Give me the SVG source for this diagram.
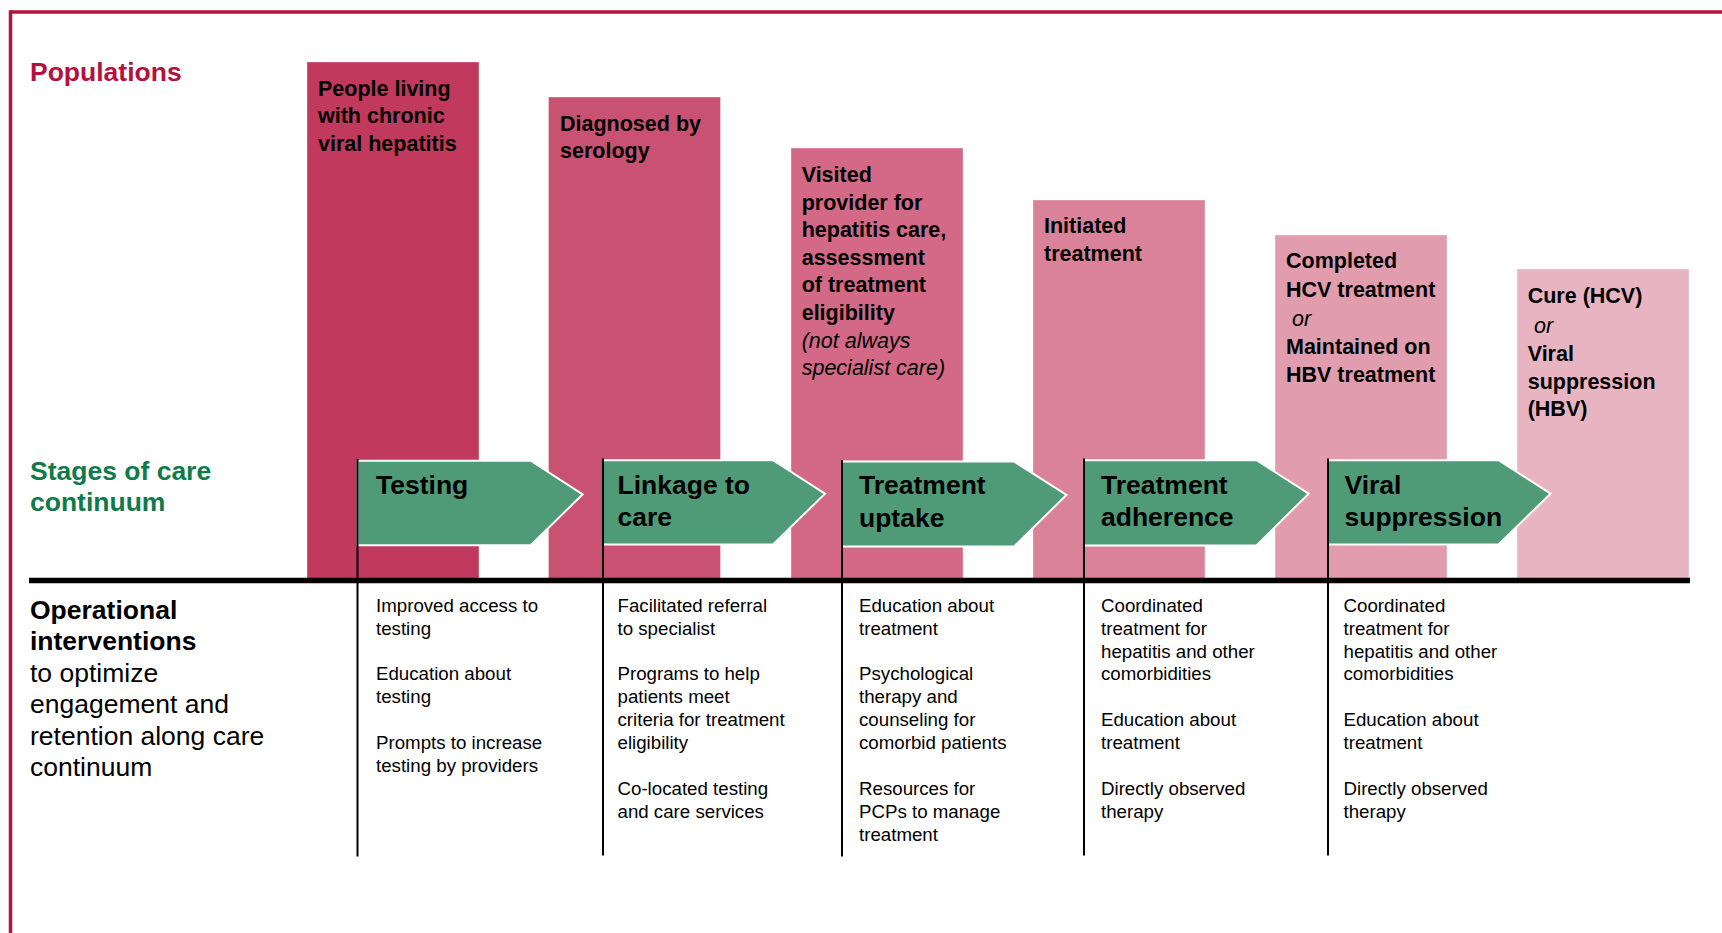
<svg xmlns="http://www.w3.org/2000/svg" width="1722" height="933" viewBox="0 0 1722 933">
  <style>
    text { font-family: "Liberation Sans", Arial, sans-serif; fill: #000; }
    .head { font-size: 26.5px; font-weight: bold; }
    .pop { fill: #b5113d; }
    .stage { fill: #0f7a4a; }
    .bartxt { font-size: 21.5px; font-weight: bold; }
    .it { font-style: italic; font-weight: normal; }
    .arrtxt { font-size: 26.5px; font-weight: bold; }
    .intv { font-size: 18.7px; }
    .reg { font-weight: normal; }
    .bar { stroke: #ffffff; stroke-opacity: 0.35; stroke-width: 1; }
    .arrow { fill: #4f9b78; stroke: #ffffff; stroke-width: 2; }
    .vline { stroke: #000; stroke-width: 2; }
  </style>

  <!-- frame -->
  <g id="frame" fill="none" stroke="#b5113d" stroke-width="3.5">
    <line x1="10.5" y1="12" x2="1722" y2="12"/>
    <line x1="10.5" y1="10.3" x2="10.5" y2="933"/>
  </g>

  <!-- row labels -->
  <g id="label-populations">
    <text class="head pop" x="30" y="81">Populations</text>
  </g>
  <g id="label-stages">
    <text class="head stage" x="30" y="479.5">Stages of care</text>
    <text class="head stage" x="30" y="511">continuum</text>
  </g>
  <g id="label-interventions">
    <text class="head" x="30" y="618.5">Operational</text>
    <text class="head" x="30" y="650">interventions</text>
    <text class="head reg" x="30" y="681.5">to optimize</text>
    <text class="head reg" x="30" y="713">engagement and</text>
    <text class="head reg" x="30" y="744.5">retention along care</text>
    <text class="head reg" x="30" y="776">continuum</text>
  </g>

  <!-- population bars -->
  <g id="pop-1">
    <rect class="bar" x="307" y="62" width="172" height="518" fill="#c1395c"/>
    <text class="bartxt" x="318" y="96">People living</text>
    <text class="bartxt" x="318" y="123.4">with chronic</text>
    <text class="bartxt" x="318" y="150.8">viral hepatitis</text>
  </g>
  <g id="pop-2">
    <rect class="bar" x="548.5" y="97" width="172" height="483" fill="#c95171"/>
    <text class="bartxt" x="560" y="131">Diagnosed by</text>
    <text class="bartxt" x="560" y="158.4">serology</text>
  </g>
  <g id="pop-3">
    <rect class="bar" x="791" y="148" width="172" height="432" fill="#d36986"/>
    <text class="bartxt" x="801.7" y="182">Visited</text>
    <text class="bartxt" x="801.7" y="209.6">provider for</text>
    <text class="bartxt" x="801.7" y="237.2">hepatitis care,</text>
    <text class="bartxt" x="801.7" y="264.8">assessment</text>
    <text class="bartxt" x="801.7" y="292.4">of treatment</text>
    <text class="bartxt" x="801.7" y="320">eligibility</text>
    <text class="bartxt it" x="801.7" y="347.6">(not always</text>
    <text class="bartxt it" x="801.7" y="375.2">specialist care)</text>
  </g>
  <g id="pop-4">
    <rect class="bar" x="1033" y="200" width="172" height="380" fill="#d98299"/>
    <text class="bartxt" x="1044" y="233">Initiated</text>
    <text class="bartxt" x="1044" y="261">treatment</text>
  </g>
  <g id="pop-5">
    <rect class="bar" x="1275" y="235" width="172" height="345" fill="#e19cae"/>
    <text class="bartxt" x="1286" y="268.3">Completed</text>
    <text class="bartxt" x="1286" y="296.7">HCV treatment</text>
    <text class="bartxt it" x="1292" y="325.5">or</text>
    <text class="bartxt" x="1286" y="354">Maintained on</text>
    <text class="bartxt" x="1286" y="381.7">HBV treatment</text>
  </g>
  <g id="pop-6">
    <rect class="bar" x="1517" y="269" width="172" height="311" fill="#e8b4c1"/>
    <text class="bartxt" x="1527.7" y="302.7">Cure (HCV)</text>
    <text class="bartxt it" x="1534" y="332.5">or</text>
    <text class="bartxt" x="1527.7" y="361">Viral</text>
    <text class="bartxt" x="1527.7" y="388.5">suppression</text>
    <text class="bartxt" x="1527.7" y="416">(HBV)</text>
  </g>

  <!-- stage arrows -->
  <g id="stage-testing">
    <path class="arrow" d="M357.5,460.7 H530.7 L582.7,494.3 L530.7,545.3 H357.5 Z"/>
    <text class="arrtxt" x="376" y="493.5">Testing</text>
  </g>
  <g id="stage-linkage">
    <path class="arrow" d="M603,460.2 H773 L825,493.6 L773,544.5 H603 Z"/>
    <text class="arrtxt" x="617.5" y="493.5">Linkage to</text>
    <text class="arrtxt" x="617.5" y="526">care</text>
  </g>
  <g id="stage-uptake">
    <path class="arrow" d="M842,461.5 H1014 L1066.5,495 L1014,546.5 H842 Z"/>
    <text class="arrtxt" x="859" y="494">Treatment</text>
    <text class="arrtxt" x="859" y="526.5">uptake</text>
  </g>
  <g id="stage-adherence">
    <path class="arrow" d="M1084,460.2 H1256.5 L1308.7,493.6 L1256.5,545.5 H1084 Z"/>
    <text class="arrtxt" x="1101" y="493.5">Treatment</text>
    <text class="arrtxt" x="1101" y="526">adherence</text>
  </g>
  <g id="stage-viral">
    <path class="arrow" d="M1328,460.2 H1498.5 L1550.6,493.6 L1498.5,544.5 H1328 Z"/>
    <text class="arrtxt" x="1344.5" y="493.5">Viral</text>
    <text class="arrtxt" x="1344.5" y="526">suppression</text>
  </g>

  <!-- rule lines -->
  <g id="connectors">
    <line class="vline" x1="357.5" y1="459" x2="357.5" y2="856.5"/>
    <line class="vline" x1="603" y1="458.5" x2="603" y2="855.5"/>
    <line class="vline" x1="842" y1="460" x2="842" y2="856.5"/>
    <line class="vline" x1="1084" y1="458.5" x2="1084" y2="855.5"/>
    <line class="vline" x1="1328" y1="458.5" x2="1328" y2="855.5"/>
    <line x1="29" y1="580.5" x2="1690" y2="580.5" stroke="#000" stroke-width="5.5"/>
  </g>

  <!-- interventions -->
  <g id="intv-testing" class="intv">
    <text class="intv" x="376" y="611.7">Improved access to</text>
    <text class="intv" x="376" y="634.6">testing</text>
    <text class="intv" x="376" y="680.4">Education about</text>
    <text class="intv" x="376" y="703.3">testing</text>
    <text class="intv" x="376" y="749.1">Prompts to increase</text>
    <text class="intv" x="376" y="772">testing by providers</text>
  </g>
  <g id="intv-linkage">
    <text class="intv" x="617.5" y="611.7">Facilitated referral</text>
    <text class="intv" x="617.5" y="634.6">to specialist</text>
    <text class="intv" x="617.5" y="680.4">Programs to help</text>
    <text class="intv" x="617.5" y="703.3">patients meet</text>
    <text class="intv" x="617.5" y="726.2">criteria for treatment</text>
    <text class="intv" x="617.5" y="749.1">eligibility</text>
    <text class="intv" x="617.5" y="794.9">Co-located testing</text>
    <text class="intv" x="617.5" y="817.8">and care services</text>
  </g>
  <g id="intv-uptake">
    <text class="intv" x="859" y="611.7">Education about</text>
    <text class="intv" x="859" y="634.6">treatment</text>
    <text class="intv" x="859" y="680.4">Psychological</text>
    <text class="intv" x="859" y="703.3">therapy and</text>
    <text class="intv" x="859" y="726.2">counseling for</text>
    <text class="intv" x="859" y="749.1">comorbid patients</text>
    <text class="intv" x="859" y="794.9">Resources for</text>
    <text class="intv" x="859" y="817.8">PCPs to manage</text>
    <text class="intv" x="859" y="840.7">treatment</text>
  </g>
  <g id="intv-adherence">
    <text class="intv" x="1101" y="611.7">Coordinated</text>
    <text class="intv" x="1101" y="634.6">treatment for</text>
    <text class="intv" x="1101" y="657.5">hepatitis and other</text>
    <text class="intv" x="1101" y="680.4">comorbidities</text>
    <text class="intv" x="1101" y="726.2">Education about</text>
    <text class="intv" x="1101" y="749.1">treatment</text>
    <text class="intv" x="1101" y="794.9">Directly observed</text>
    <text class="intv" x="1101" y="817.8">therapy</text>
  </g>
  <g id="intv-viral">
    <text class="intv" x="1343.5" y="611.7">Coordinated</text>
    <text class="intv" x="1343.5" y="634.6">treatment for</text>
    <text class="intv" x="1343.5" y="657.5">hepatitis and other</text>
    <text class="intv" x="1343.5" y="680.4">comorbidities</text>
    <text class="intv" x="1343.5" y="726.2">Education about</text>
    <text class="intv" x="1343.5" y="749.1">treatment</text>
    <text class="intv" x="1343.5" y="794.9">Directly observed</text>
    <text class="intv" x="1343.5" y="817.8">therapy</text>
  </g>
</svg>
